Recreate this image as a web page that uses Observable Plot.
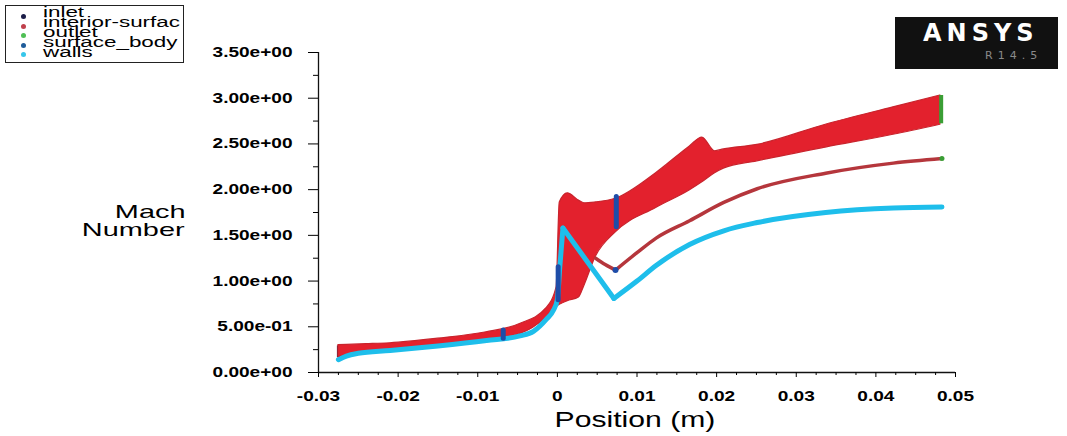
<!DOCTYPE html>
<html>
<head>
<meta charset="utf-8">
<script src="https://cdn.jsdelivr.net/npm/d3@7"></script>
<script src="https://cdn.jsdelivr.net/npm/@observablehq/plot@0.6"></script>
<style>
  body { margin: 0; background: #fff; }
  #wrap { position: relative; width: 1067px; height: 436px; overflow: hidden;
          font-family: "Liberation Sans", Arial, sans-serif; color: #000; }
  #wrap svg { position: absolute; left: 0; top: 0; }
  .legend { position: absolute; left: 5px; top: 5px; width: 177px; height: 56px;
            border: 1px solid #222; overflow: hidden; background: #fff; }
  .legend .item { position: absolute; left: 37px; height: 10px; font-size: 14px; line-height: 10px;
                  white-space: nowrap; transform: scaleX(1.6); transform-origin: 0 0; }
  .legend .dot { position: absolute; left: 15px; width: 5px; height: 5px; border-radius: 50%; }
  .ylabel { position: absolute; right: 882px; font-size: 19px; line-height: 19px;
            white-space: nowrap; transform: scaleX(1.52); transform-origin: 100% 0; }
  .xlabel { position: absolute; left: 435px; width: 400px; top: 409px; text-align: center;
            font-size: 22px; line-height: 22px; transform: scaleX(1.37); transform-origin: 50% 0; }
  .logo { position: absolute; left: 895px; top: 17px; width: 163px; height: 52px; background: #111; }
  .logo .name { position: absolute; left: 28px; top: 4px; font-family: "DejaVu Sans", sans-serif;
                font-weight: bold; font-size: 24px; line-height: 24px; letter-spacing: 5px; color: #fff; }
  .logo .rel { position: absolute; left: 90px; top: 33px; font-family: "DejaVu Sans", sans-serif;
               font-size: 11px; line-height: 11px; letter-spacing: 5px; color: #8a8a8a; }
</style>
</head>
<body>
<div id="wrap"></div>
<script>
// Interior-surface samples: lower and upper envelope of the point cloud
const bandX     = [-0.0275, -0.0240, -0.0210, -0.0150, -0.0089, -0.0047, -0.0014, -0.0001, 0.0003, 0.0013, 0.0027, 0.0034, 0.0048, 0.0073, 0.0124, 0.0166, 0.0182, 0.0198, 0.0209, 0.0251, 0.0337, 0.0422, 0.0481];
const bandUpper = [0.30, 0.31, 0.32, 0.37, 0.44, 0.53, 0.70, 0.93, 1.86, 1.96, 1.88, 1.85, 1.86, 1.90, 2.18, 2.47, 2.57, 2.42, 2.44, 2.49, 2.71, 2.90, 3.03];
const bandLower = [0.17, 0.22, 0.25, 0.30, 0.36, 0.42, 0.60, 0.72, 0.74, 0.78, 0.82, 0.95, 1.26, 1.53, 1.80, 1.99, 2.08, 2.18, 2.23, 2.31, 2.46, 2.60, 2.71];

// Interior-surface branch downstream of the throat
const branchX = [0.0048, 0.0060, 0.0073, 0.0100, 0.0124, 0.0166, 0.0209, 0.0251, 0.0337, 0.0422, 0.0483];
const branchM = [1.25, 1.18, 1.12, 1.31, 1.47, 1.66, 1.86, 2.01, 2.18, 2.29, 2.34];

// Walls
const wallsX = [-0.0275, -0.0265, -0.0250, -0.0210, -0.0150, -0.0089, -0.0047, -0.0030, -0.0014, -0.0005, 0.0000, 0.0003, 0.0007, 0.0071, 0.0100, 0.0124, 0.0166, 0.0209, 0.0251, 0.0337, 0.0422, 0.0483];
const wallsM = [0.14, 0.18, 0.21, 0.24, 0.29, 0.35, 0.40, 0.45, 0.58, 0.68, 0.80, 1.15, 1.58, 0.81, 1.00, 1.17, 1.40, 1.55, 1.64, 1.75, 1.80, 1.81];

// Surface body cuts (vertical spans) and single point
const bodyX  = [-0.0068, 0.0001, 0.0074];
const bodyLo = [0.37, 0.79, 1.59];
const bodyHi = [0.46, 1.15, 1.92];
const bodyPtX = [0.0073];
const bodyPtM = [1.12];

// Outlet
const outletX  = [0.0482];
const outletLo = [2.72];
const outletHi = [3.03];
const outletPtX = [0.0483];
const outletPtM = [2.34];

// Inlet
const inletX  = [-0.0275];
const inletLo = [0.16];
const inletHi = [0.29];

// Axes
const xTicks      = [-0.03, -0.02, -0.01, 0, 0.01, 0.02, 0.03, 0.04, 0.05];
const xTickLabels = ["-0.03", "-0.02", "-0.01", "0", "0.01", "0.02", "0.03", "0.04", "0.05"];
const yTicks      = [0, 0.5, 1, 1.5, 2, 2.5, 3, 3.5];
const yTickLabels = ["0.00e+00", "5.00e-01", "1.00e+00", "1.50e+00", "2.00e+00", "2.50e+00", "3.00e+00", "3.50e+00"];
const xMinor = d3.range(-0.03, 0.0501, 0.0025).map(v => +v.toFixed(4)).filter(v => !xTicks.some(t => Math.abs(t - v) < 1e-6));
const yMinor = [0.25, 0.75, 1.25, 1.75, 2.25, 2.75, 3.25];

// Legend
const legendNames  = ["inlet", "interior-surfac", "outlet", "surface_body", "walls"];
const legendColors = ["#1b1d48", "#c0404c", "#4fbf55", "#1f5c9a", "#36c6ea"];

const colors = { band: "#e3212d", bandEdge: "#c9242d", branch: "#b5363c", walls: "#1ebeeb",
                 body: "#1e4da8", outlet: "#3a9e35", inlet: "#1b1d48" };

// split a polyline at its turning points so corners stay sharp while each run is smoothed
function segmented(xs, ys) {
  const rows = [];
  let seg = 0;
  for (let i = 0; i < xs.length; i++) {
    rows.push({ x: xs[i], m: ys[i], seg });
    if (i > 0 && i < xs.length - 1 && (ys[i] - ys[i - 1]) * (ys[i + 1] - ys[i]) < 0) {
      seg++;
      rows.push({ x: xs[i], m: ys[i], seg });
    }
  }
  return rows;
}

const band   = bandX.map((x, i) => ({ x, lo: bandLower[i], hi: bandUpper[i] }));
const branch = segmented(branchX, branchM);
const walls  = segmented(wallsX, wallsM);
const body   = bodyX.map((x, i) => ({ x, lo: bodyLo[i], hi: bodyHi[i] }));
const bodyPt = bodyPtX.map((x, i) => ({ x, m: bodyPtM[i] }));
const outlet = outletX.map((x, i) => ({ x, lo: outletLo[i], hi: outletHi[i] }));
const outletPt = outletPtX.map((x, i) => ({ x, m: outletPtM[i] }));
const inlet  = inletX.map((x, i) => ({ x, lo: inletLo[i], hi: inletHi[i] }));

const chart = Plot.plot({
  width: 1067,
  height: 436,
  marginLeft: 318,
  marginRight: 112,
  marginTop: 52,
  marginBottom: 64,
  x: { domain: [-0.03, 0.05] },
  y: { domain: [0, 3.5] },
  style: { background: "transparent", fontFamily: "'Liberation Sans', Arial, sans-serif", color: "#000" },
  marks: [
    Plot.ruleX(inlet, { x: "x", y1: "lo", y2: "hi", stroke: colors.inlet, strokeWidth: 3 }),
    Plot.areaY(band, { x: "x", y1: "lo", y2: "hi", curve: "monotone-x",
                       fill: colors.band, stroke: colors.bandEdge, strokeWidth: 1.2 }),
    Plot.line(branch, { x: "x", y: "m", z: "seg", curve: "monotone-x", stroke: colors.branch, strokeWidth: 3.5,
                        strokeLinecap: "round", strokeLinejoin: "round" }),
    Plot.line(walls, { x: "x", y: "m", z: "seg", curve: "monotone-x", stroke: colors.walls, strokeWidth: 5,
                       strokeLinecap: "round", strokeLinejoin: "round" }),
    Plot.ruleX(body, { x: "x", y1: "lo", y2: "hi", stroke: colors.body, strokeWidth: 5, strokeLinecap: "round" }),
    Plot.dot(bodyPt, { x: "x", y: "m", r: 3, fill: colors.body }),
    Plot.ruleX(outlet, { x: "x", y1: "lo", y2: "hi", stroke: colors.outlet, strokeWidth: 4 }),
    Plot.dot(outletPt, { x: "x", y: "m", r: 2.5, fill: colors.outlet }),
    // axis lines
    Plot.ruleX([-0.03], { stroke: "#111", strokeWidth: 1.3 }),
    Plot.ruleY([0], { stroke: "#111", strokeWidth: 1.3 }),
    // major and minor ticks
    Plot.axisY(yTicks, { tickSize: 10, tickPadding: 16, label: null, fontSize: 14, fontWeight: "bold",
                         tickFormat: d => yTickLabels[yTicks.indexOf(d)] }),
    Plot.axisY(yMinor, { tickSize: 5, label: null, tickFormat: () => "" }),
    Plot.axisX(xTicks, { tickSize: 5, tickPadding: 14, label: null, fontSize: 14, fontWeight: "bold",
                         tickFormat: d => xTickLabels[xTicks.indexOf(d)] }),
    Plot.axisX(xMinor, { tickSize: 3, label: null, tickFormat: () => "" })
  ]
});

// widen tick labels horizontally to the proportions of the plot's lettering
chart.querySelectorAll('g[aria-label$="tick label"] text').forEach(el => {
  const t = el.getAttribute("transform");
  if (t) el.setAttribute("transform", t + " scale(1.36,1)");
});

const wrap = document.getElementById("wrap");
wrap.appendChild(chart);

// legend box
const legend = document.createElement("div");
legend.className = "legend";
legendNames.forEach((name, i) => {
  const dot = document.createElement("div");
  dot.className = "dot";
  dot.style.top = (8 + i * 9.6) + "px";
  dot.style.background = legendColors[i];
  legend.appendChild(dot);
  const item = document.createElement("div");
  item.className = "item";
  item.style.top = (1 + i * 10) + "px";
  item.textContent = name;
  legend.appendChild(item);
});
wrap.appendChild(legend);

// y-axis title
[["Mach", 202], ["Number", 220]].forEach(([s, top]) => {
  const d = document.createElement("div");
  d.className = "ylabel";
  d.style.top = top + "px";
  d.textContent = s;
  wrap.appendChild(d);
});

// x-axis title
const xl = document.createElement("div");
xl.className = "xlabel";
xl.textContent = "Position (m)";
wrap.appendChild(xl);

// logo
const logo = document.createElement("div");
logo.className = "logo";
logo.innerHTML = '<div class="name">ANSYS</div><div class="rel">R14.5</div>';
wrap.appendChild(logo);
</script>
</body>
</html>
